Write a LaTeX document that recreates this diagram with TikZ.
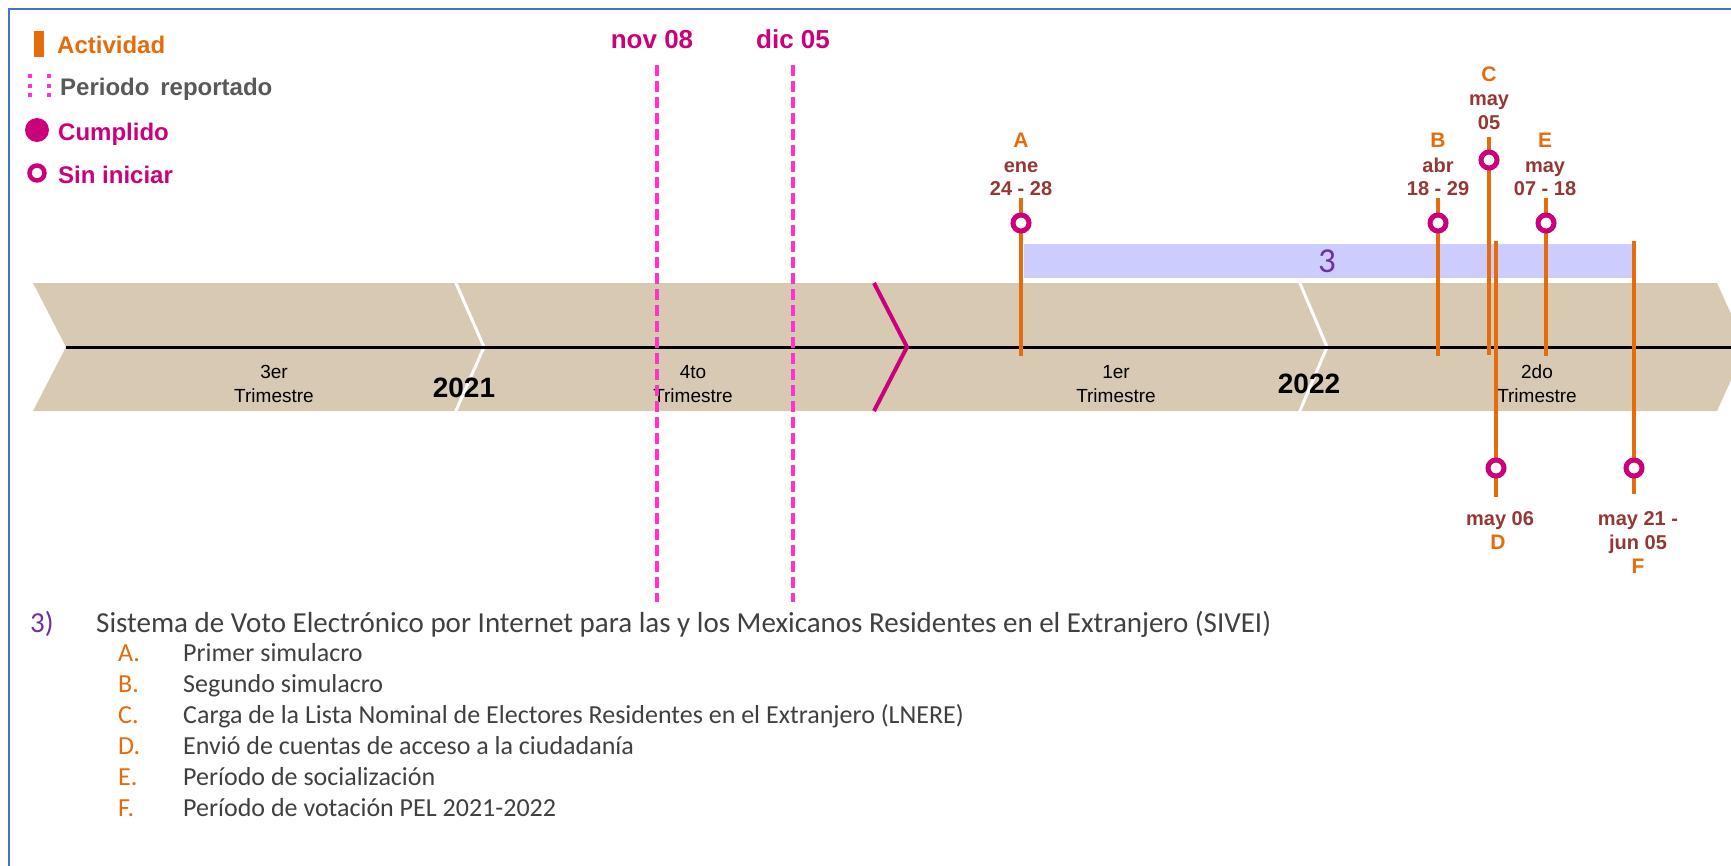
\documentclass[tikz,border=0pt]{standalone}
\usepackage{fontspec}
\setmainfont{Liberation Sans}
\newfontfamily\calfont{Carlito}
\definecolor{bandc}{RGB}{215,201,178}
\definecolor{actc}{RGB}{228,108,10}
\definecolor{magc}{RGB}{204,0,122}
\definecolor{pinkc}{RGB}{255,51,204}
\definecolor{datec}{RGB}{149,55,53}
\definecolor{barc}{RGB}{204,204,255}
\definecolor{purpc}{RGB}{112,48,160}
\definecolor{framec}{RGB}{68,114,196}
\definecolor{txtc}{RGB}{64,64,64}
\definecolor{leggray}{RGB}{89,89,89}
\newcommand\fsz[1]{\fontsize{#1}{#1}\selectfont}
\begin{document}
\begin{tikzpicture}[x=1pt,y=-1pt,
  actline/.style={draw=actc, line width=4.5pt},
  opencirc/.style={circle, draw=magc, fill=white, line width=5pt, minimum size=16pt, inner sep=0pt},
  letterlbl/.style={text=actc, font=\bfseries\fsz{21}, inner sep=0pt, anchor=base},
  datelbl/.style={text=datec, font=\bfseries\fsz{20}, inner sep=0pt, anchor=base},
  trimlbl/.style={font=\fsz{19}, inner sep=0pt, anchor=base},
  yearlbl/.style={font=\bfseries\fsz{28}, inner sep=0pt, anchor=base},
  periodline/.style={draw=pinkc, line width=3.3pt, dash pattern=on 11pt off 5pt},
  legendlbl/.style={font=\bfseries\fsz{24}, inner sep=0pt, anchor=base west},
  itemtxt/.style={font=\calfont\fsz{26}, text=txtc, inner sep=0pt, anchor=base west},
  itemlet/.style={font=\calfont\fsz{26}, text=actc, inner sep=0pt, anchor=base west},
  chevw/.style={draw=white, line width=3pt}
]
\useasboundingbox (0,0) rectangle (1731,865);
\clip (0,0) rectangle (1731,865);
\fill[white] (0,0) rectangle (1731,865);
% frame
\draw[framec, line width=2pt] (9,866) -- (9,9) -- (1732,9);

% legend
\fill[actc] (34,31) rectangle (44,57);
\node[legendlbl, text=actc] (lgact) at (57,53) {Actividad};
\draw[pinkc, line width=4pt, dash pattern=on 4pt off 5.5pt] (30,74) -- (30,98);
\draw[pinkc, line width=4pt, dash pattern=on 4pt off 5.5pt] (49,74) -- (49,98);
\node[legendlbl, text=leggray] (lgper) at (60,95) {Periodo\hspace{0.45em}reportado};
\node[circle, fill=magc, minimum size=24pt, inner sep=0pt] (lgfull) at (37,130) {};
\node[legendlbl, text=magc] (lgcum) at (58,140) {Cumplido};
\node[circle, draw=magc, line width=4.5pt, minimum size=15pt, inner sep=0pt] (lgopen) at (37,173) {};
\node[legendlbl, text=magc] (lgsin) at (58,183) {Sin iniciar};

% band
\fill[bandc] (33,283) -- (1717,283) -- (1746,347) -- (1717,411) -- (33,411) -- (66,347) -- cycle;
\draw[chevw] (455,281) -- (484,347) -- (455,413);
\draw[chevw] (1299,281) -- (1327,347) -- (1299,413);
\draw[black, line width=3pt] (66,347) -- (1740,347);
\draw[magc, line width=4pt] (874,283) -- (907,347) -- (874,411);

% band texts
\node[trimlbl] (t3a) at (274,378) {3er};
\node[trimlbl] (t3b) at (274,402) {Trimestre};
\node[trimlbl] (t4a) at (693,378) {4to};
\node[trimlbl] (t4b) at (693,402) {Trimestre};
\node[trimlbl] (t1a) at (1116,378) {1er};
\node[trimlbl] (t1b) at (1116,402) {Trimestre};
\node[trimlbl] (t2a) at (1537,378) {2do};
\node[trimlbl] (t2b) at (1537,402) {Trimestre};
\node[yearlbl] (y21) at (464,397) {2021};
\node[yearlbl] (y22) at (1309,393) {2022};

% blue bar
\fill[barc] (1024,244) rectangle (1632,278);
\node[font=\calfont\fsz{35}, text=purpc, inner sep=0pt] (bar3) at (1327,261) {3};

% reported period
\node[font=\bfseries\fsz{26}, text=magc, inner sep=0pt, anchor=base] (nov) at (652,48) {nov 08};
\node[font=\bfseries\fsz{26}, text=magc, inner sep=0pt, anchor=base] (dic) at (793,48) {dic 05};
\coordinate (novt) at (657,65); \coordinate (novb) at (657,602);
\coordinate (dict) at (793,65); \coordinate (dicb) at (793,602);
\draw[periodline] (novt) -- (novb);
\draw[periodline] (dict) -- (dicb);

% activity A
\coordinate (At) at (1021,198); \coordinate (Ab) at (1021,356);
\draw[actline] (At) -- (Ab);
\node[opencirc] (Ac) at (1021,223) {};
\node[letterlbl] (Al) at (1021,147) {A};
\node[datelbl] (Ad1) at (1021,172) {ene};
\node[datelbl] (Ad2) at (1021,195) {24 - 28};
% activity B
\coordinate (Bt) at (1438,198); \coordinate (Bb) at (1438,356);
\draw[actline] (Bt) -- (Bb);
\node[opencirc] (Bc) at (1438,223) {};
\node[letterlbl] (Bl) at (1438,147) {B};
\node[datelbl] (Bd1) at (1438,172) {abr};
\node[datelbl] (Bd2) at (1438,195) {18 - 29};
% activity C
\coordinate (Ct) at (1489,137); \coordinate (Cb) at (1489,355);
\draw[actline] (Ct) -- (Cb);
\node[opencirc] (Cc) at (1489,160) {};
\node[letterlbl] (Cl) at (1489,81) {C};
\node[datelbl] (Cd1) at (1489,105) {may};
\node[datelbl] (Cd2) at (1489,129) {05};
% activity D
\coordinate (Dt) at (1496,241); \coordinate (Db) at (1496,497);
\draw[actline] (Dt) -- (Db);
\node[opencirc] (Dc) at (1496,468) {};
\node[datelbl] (Dd1) at (1500,525) {may 06};
\node[letterlbl] (Dl) at (1498,549) {D};
% activity E
\coordinate (Et) at (1546,198); \coordinate (Eb) at (1546,356);
\draw[actline] (Et) -- (Eb);
\node[opencirc] (Ec) at (1546,223) {};
\node[letterlbl] (El) at (1545,147) {E};
\node[datelbl] (Ed1) at (1545,172) {may};
\node[datelbl] (Ed2) at (1545,195) {07 - 18};
% activity F
\coordinate (Ft) at (1634,241); \coordinate (Fb) at (1634,494);
\draw[actline] (Ft) -- (Fb);
\node[opencirc] (Fc) at (1634,468) {};
\node[datelbl] (Fd1) at (1638,525) {may 21 -};
\node[datelbl] (Fd2) at (1638,549) {jun 05};
\node[letterlbl] (Fl) at (1638,573) {F};

% bottom list
\node[font=\calfont\fsz{29}, text=purpc, inner sep=0pt, anchor=base west] (n3) at (30,632) {3)};
\node[font=\calfont\fsz{29}, text=txtc, inner sep=0pt, anchor=base west] (title) at (96,632) {Sistema de Voto Electrónico por Internet para las y los Mexicanos Residentes en el Extranjero (SIVEI)};
\node[itemlet] (iA) at (118,661) {A.};
\node[itemtxt] (tA) at (183,661) {Primer simulacro};
\node[itemlet] (iB) at (118,692) {B.};
\node[itemtxt] (tB) at (183,692) {Segundo simulacro};
\node[itemlet] (iC) at (118,723) {C.};
\node[itemtxt] (tC) at (183,723) {Carga de la Lista Nominal de Electores Residentes en el Extranjero (LNERE)};
\node[itemlet] (iD) at (118,754) {D.};
\node[itemtxt] (tD) at (183,754) {Envió de cuentas de acceso a la ciudadanía};
\node[itemlet] (iE) at (118,785) {E.};
\node[itemtxt] (tE) at (183,785) {Período de socialización};
\node[itemlet] (iF) at (118,816) {F.};
\node[itemtxt] (tF) at (183,816) {Período de votación PEL 2021-2022};
\end{tikzpicture}
\end{document}
